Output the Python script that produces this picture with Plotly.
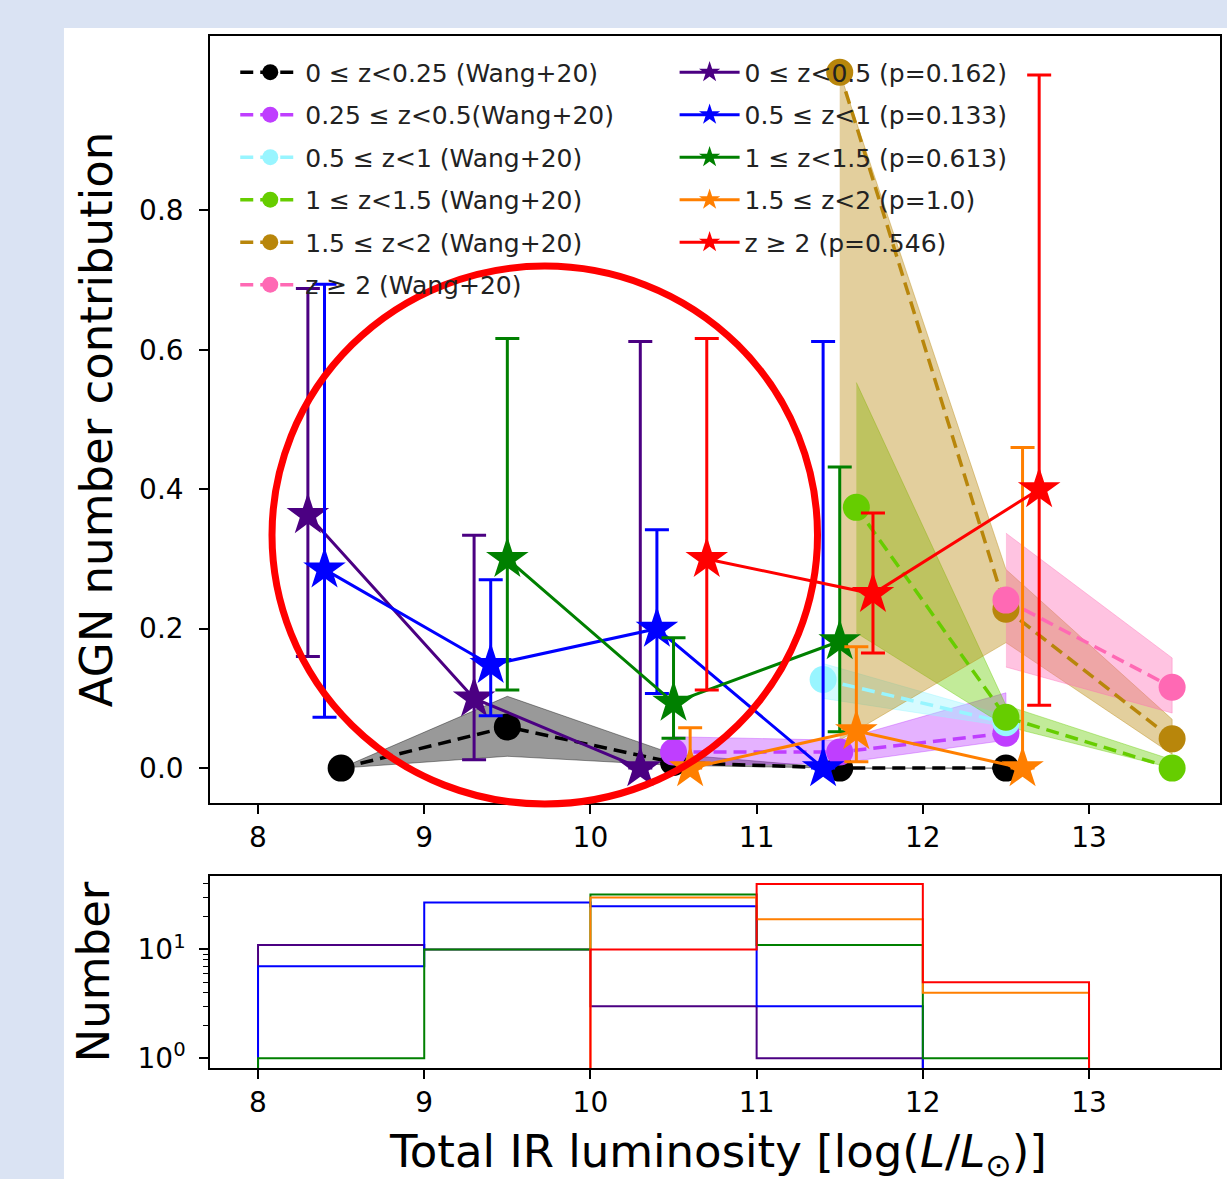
import plotly.graph_objects as go

# ---------------- data ----------------
# Wang+20 comparison (circles, dashed lines, shaded ranges)
w_labels = ["0 ≤ z<0.25 (Wang+20)", "0.25 ≤ z<0.5(Wang+20)", "0.5 ≤ z<1 (Wang+20)",
            "1 ≤ z<1.5 (Wang+20)", "1.5 ≤ z<2 (Wang+20)", "z ≥ 2 (Wang+20)"]
w_colors = ["#000000", "#BF3EFF", "#98F5FF", "#66CD00", "#B8860B", "#FF69B4"]
w_fill = ["rgba(0,0,0,0.4)", "rgba(191,62,255,0.4)", "rgba(152,245,255,0.4)",
          "rgba(102,205,0,0.4)", "rgba(184,134,11,0.4)", "rgba(255,105,180,0.4)"]
w_x = [[8.5, 9.5, 10.5, 11.5, 12.5], [10.5, 11.5, 12.5], [11.4, 12.5],
       [11.6, 12.5, 13.5], [11.5, 12.5, 13.5], [12.5, 13.5]]
w_y = [[0.0, 0.059, 0.008, 0.0, 0.0], [0.023, 0.023, 0.05], [0.127, 0.065],
       [0.374, 0.073, 0.0], [0.998, 0.228, 0.042], [0.241, 0.116]]
w_lo = [[0.0, 0.017, 0.004, 0.0, 0.0], [0.004, 0.007, 0.04], [0.10, 0.06],
        [0.194, 0.06, 0.0], [0.04, 0.18, 0.02], [0.145, 0.079]]
w_hi = [[0.0, 0.103, 0.02, 0.0, 0.0], [0.045, 0.04, 0.108], [0.15, 0.075],
        [0.553, 0.09, 0.012], [0.998, 0.285, 0.07], [0.337, 0.158]]

# This work (stars with error bars)
s_labels = ["0 ≤ z<0.5 (p=0.162)", "0.5 ≤ z<1 (p=0.133)", "1 ≤ z<1.5 (p=0.613)",
            "1.5 ≤ z<2 (p=1.0)", "z ≥ 2 (p=0.546)"]
s_colors = ["#4B0082", "#0000FF", "#008000", "#FF7F00", "#FF0000"]
s_x = [[8.3, 9.3, 10.3], [8.4, 9.4, 10.4, 11.4], [9.5, 10.5, 11.5],
       [10.6, 11.6, 12.6], [10.7, 11.7, 12.7]]
s_y = [[0.363, 0.10, 0.0], [0.285, 0.148, 0.20, 0.0], [0.30, 0.094, 0.182],
       [0.0, 0.053, 0.0], [0.30, 0.25, 0.40]]
s_lo = [[0.16, 0.012, 0.0], [0.073, 0.075, 0.107, 0.0], [0.112, 0.043, 0.052],
        [0.0, 0.009, 0.0], [0.112, 0.165, 0.09]]
s_hi = [[0.688, 0.334, 0.612], [0.694, 0.27, 0.342, 0.612], [0.616, 0.187, 0.432],
        [0.058, 0.174, 0.46], [0.616, 0.366, 0.994]]

# Histogram of numbers per luminosity bin
bin_edges = [8, 9, 10, 11, 12, 13]
h_counts = [[11, 10, 3, 1, 0], [7, 27, 25, 3, 0], [1, 10, 32, 11, 1],
            [0, 0, 30, 19, 4], [0, 0, 10, 40, 5]]

x_ticks = [8, 9, 10, 11, 12, 13]
y_ticks = [0.0, 0.2, 0.4, 0.6, 0.8]
x_title = "Total IR luminosity [log(<i>L</i>/<i>L</i><sub>⊙</sub>)]"

FONT = "DejaVu Sans"
fig = go.Figure()

# Wang+20 shaded ranges
for i in range(len(w_labels)):
    xs = w_x[i] + w_x[i][::-1]
    ys = w_hi[i] + w_lo[i][::-1]
    fig.add_trace(go.Scatter(x=xs, y=ys, fill="toself", fillcolor=w_fill[i],
                             mode="lines", line=dict(color=w_fill[i], width=1),
                             showlegend=False, hoverinfo="skip", xaxis="x", yaxis="y"))
# Wang+20 dashed lines with circles
for i in range(len(w_labels)):
    fig.add_trace(go.Scatter(x=w_x[i], y=w_y[i], mode="lines+markers", name=w_labels[i],
                             line=dict(color=w_colors[i], width=3.5, dash="13px,7px"),
                             marker=dict(symbol="circle", size=27, color=w_colors[i]),
                             legend="legend", legendgroup="w%d" % i,
                             xaxis="x", yaxis="y"))
# Stars with error bars
for i in range(len(s_labels)):
    ep = [h - y for h, y in zip(s_hi[i], s_y[i])]
    em = [y - l for l, y in zip(s_lo[i], s_y[i])]
    fig.add_trace(go.Scatter(x=s_x[i], y=s_y[i], mode="lines+markers", name=s_labels[i],
                             line=dict(color=s_colors[i], width=3),
                             marker=dict(symbol="star", size=32, color=s_colors[i]),
                             error_y=dict(type="data", symmetric=False, array=ep, arrayminus=em,
                                          color=s_colors[i], thickness=3, width=12),
                             legend="legend2", legendgroup="s%d" % i,
                             xaxis="x", yaxis="y"))

# Histograms (step outlines)
BASE = 0.1
for i in range(len(h_counts)):
    xs = [bin_edges[0]]
    ys = [BASE]
    for j, c in enumerate(h_counts[i]):
        v = c if c > 0 else BASE
        xs += [bin_edges[j], bin_edges[j + 1]]
        ys += [v, v]
    xs.append(bin_edges[-1])
    ys.append(BASE)
    fig.add_trace(go.Scatter(x=xs, y=ys, mode="lines", line=dict(color=s_colors[i], width=2),
                             showlegend=False, hoverinfo="skip", xaxis="x2", yaxis="y2"))

axis_common = dict(showline=True, linecolor="black", linewidth=1.5, mirror=True,
                   ticks="outside", ticklen=9, tickwidth=1.5, tickcolor="black",
                   showgrid=False, zeroline=False, automargin=False,
                   tickfont=dict(family=FONT, size=28, color="black"))

xr = [7.711, 13.788]
fig.update_layout(
    width=1227, height=1179,
    margin=dict(l=210, r=7, t=36, b=111, autoexpand=False),
    paper_bgcolor="#DAE3F3", plot_bgcolor="white",
    font=dict(family=FONT, color="black"),
    xaxis=dict(domain=[0, 1], anchor="y", range=xr, tickvals=x_ticks, **axis_common),
    yaxis=dict(domain=[0.2568, 1], anchor="x", range=[-0.05, 1.05], tickvals=y_ticks,
               tickformat=".1f", ticklabelstandoff=10,
               title=dict(text="AGN number contribution", font=dict(family=FONT, size=45),
                          standoff=12),
               **axis_common),
    xaxis2=dict(domain=[0, 1], anchor="y2", range=xr, tickvals=x_ticks, **axis_common),
    yaxis2=dict(domain=[0, 0.186], anchor="x2", type="log", range=[-0.09, 1.675],
                tickvals=[1, 10], ticktext=["10<sup>0</sup>", "10<sup>1</sup>"],
                ticklabelstandoff=8,
                minor=dict(ticks="outside", ticklen=5, tickwidth=1.2, tickcolor="black",
                           tickvals=[2, 3, 4, 5, 6, 7, 8, 9, 20, 30, 40]),
                title=dict(text="Number", font=dict(family=FONT, size=45), standoff=14),
                **axis_common),
    legend=dict(x=0.025, y=0.987, xanchor="left", yanchor="top", bgcolor="rgba(0,0,0,0)",
                font=dict(family=FONT, size=25, color="#222222"), tracegroupgap=7,
                traceorder="grouped", itemwidth=60),
    legend2=dict(x=0.46, y=0.987, xanchor="left", yanchor="top", bgcolor="rgba(0,0,0,0)",
                 font=dict(family=FONT, size=25, color="#222222"), tracegroupgap=7,
                 traceorder="grouped", itemwidth=60),
    annotations=[
        dict(text=x_title, xref="paper", yref="paper", x=0.5025, y=-0.083,
             xanchor="center", yanchor="middle", showarrow=False,
             font=dict(family=FONT, size=45, color="black")),
    ],
    shapes=[
        dict(type="rect", xref="paper", yref="paper", x0=-0.1446, x1=1.05, y0=-0.2, y1=1.0078,
             fillcolor="white", line=dict(width=0), layer="below"),
        dict(type="circle", xref="paper", yref="paper", x0=0.0614, x1=0.6015,
             y0=0.2558, y1=0.7771, line=dict(color="#FF0000", width=7), layer="above"),
    ],
)

fig.write_html("out.html")
